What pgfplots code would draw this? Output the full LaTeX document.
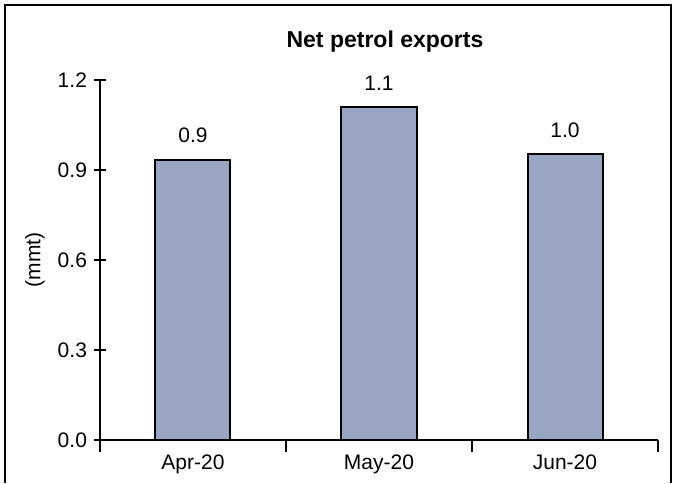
\documentclass[border=0pt]{standalone}
\usepackage{pgfplots}
\pgfplotsset{compat=1.18}
\usepackage{fontspec}
\setmainfont{Liberation Sans}
\definecolor{barfill}{RGB}{152,166,196}
\begin{document}
\begin{tikzpicture}
\path[use as bounding box] (-50pt,-21.5pt) rectangle (287.5pt,220pt);
\draw[line width=0.8pt] (-47.5pt,-21.5pt) -- (-47.5pt,217.5pt) -- (285.5pt,217.5pt) -- (285.5pt,-21.5pt);
\begin{axis}[
  scale only axis,
  width=279pt, height=180pt,
  axis lines*=left,
  axis line style={line width=0.9pt},
  xmin=0.5, xmax=3.5,
  ymin=0, ymax=1.2,
  xtick={0.5,1.5,2.5,3.5},
  xticklabels={},
  extra x ticks={1,2,3},
  extra x tick labels={Apr-20,May-20,Jun-20},
  extra x tick style={major tick length=0pt, tick label style={yshift=-4pt}},
  ytick={0,0.3,0.6,0.9,1.2},
  yticklabel style={/pgf/number format/.cd,fixed,fixed zerofill,precision=1},
  /pgf/number format/assume math mode=true,
  tick align=center,
  major tick length=6pt,
  tick style={black, line width=0.9pt},
  tick label style={font=\fontsize{10.5}{12}\selectfont},
  title={\bfseries Net petrol exports},
  title style={at={(0.5,1)}, anchor=center, yshift=13pt, xshift=3pt, font=\fontsize{11.5}{13}\selectfont},
  ylabel={(mmt)},
  ylabel style={at={(axis description cs:-0.1165,0.5)}, anchor=center, font=\fontsize{10.5}{12}\selectfont},
  ybar, bar width=37.5pt,
  nodes near coords={\pgfmathprintnumber[fixed,fixed zerofill,precision=1]{\pgfplotspointmeta}},
  nodes near coords style={font=\fontsize{10.5}{12}\selectfont, anchor=south, inner sep=0pt, yshift=8pt},
]
\addplot[fill=barfill, draw=black, line width=1pt] coordinates {
  (1,0.933) (2,1.109) (3,0.952)
};
\end{axis}
\end{tikzpicture}
\end{document}
